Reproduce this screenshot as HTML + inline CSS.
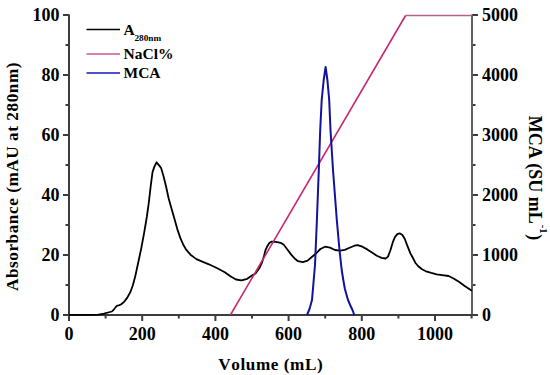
<!DOCTYPE html>
<html><head><meta charset="utf-8"><style>
html,body{margin:0;padding:0;background:#fff;}
body{width:550px;height:375px;overflow:hidden;}
svg{display:block;}
text{font-family:"Liberation Serif",serif;font-weight:bold;fill:#000;font-kerning:none;}
</style></head><body>
<svg width="550" height="375" viewBox="0 0 550 375">
<rect width="550" height="375" fill="#fff"/>
<g font-size="18">
<text x="69.0" y="340" text-anchor="middle">0</text>
<text x="142.2" y="340" text-anchor="middle">200</text>
<text x="215.4" y="340" text-anchor="middle">400</text>
<text x="288.6" y="340" text-anchor="middle">600</text>
<text x="361.8" y="340" text-anchor="middle">800</text>
<text x="435.0" y="340" text-anchor="middle">1000</text>
<text x="59.5" y="321.0" text-anchor="end">0</text>
<text x="59.5" y="261.0" text-anchor="end">20</text>
<text x="59.5" y="201.0" text-anchor="end">40</text>
<text x="59.5" y="141.0" text-anchor="end">60</text>
<text x="59.5" y="81.0" text-anchor="end">80</text>
<text x="59.5" y="21.0" text-anchor="end">100</text>
<text x="482" y="321.0" text-anchor="start">0</text>
<text x="482" y="261.0" text-anchor="start">1000</text>
<text x="482" y="201.0" text-anchor="start">2000</text>
<text x="482" y="141.0" text-anchor="start">3000</text>
<text x="482" y="81.0" text-anchor="start">4000</text>
<text x="482" y="21.0" text-anchor="start">5000</text>
</g>
<text x="270.8" y="369.5" font-size="17.2" letter-spacing="0.55" text-anchor="middle">Volume (mL)</text>
<text transform="translate(17.6,176.5) rotate(-90)" font-size="17.2" letter-spacing="0.55" text-anchor="middle">Absorbance (mAU at 280nm)</text>
<text transform="translate(529,178) rotate(90)" font-size="18" text-anchor="middle">MCA (SU mL<tspan font-size="10.5" dx="1" dy="-10.5">-1</tspan><tspan dx="0.8" dy="10.5">)</tspan></text>
<g stroke="#3c3c3c" stroke-width="2">
<line x1="69.00" y1="315" x2="69.00" y2="321"/>
<line x1="105.60" y1="315" x2="105.60" y2="318.5"/>
<line x1="142.20" y1="315" x2="142.20" y2="321"/>
<line x1="178.80" y1="315" x2="178.80" y2="318.5"/>
<line x1="215.40" y1="315" x2="215.40" y2="321"/>
<line x1="252.00" y1="315" x2="252.00" y2="318.5"/>
<line x1="288.60" y1="315" x2="288.60" y2="321"/>
<line x1="325.20" y1="315" x2="325.20" y2="318.5"/>
<line x1="361.80" y1="315" x2="361.80" y2="321"/>
<line x1="398.40" y1="315" x2="398.40" y2="318.5"/>
<line x1="435.00" y1="315" x2="435.00" y2="321"/>
<line x1="471.60" y1="315" x2="471.60" y2="318.5"/>
<line x1="63" y1="315.00" x2="69" y2="315.00"/>
<line x1="65.5" y1="285.00" x2="69" y2="285.00"/>
<line x1="63" y1="255.00" x2="69" y2="255.00"/>
<line x1="65.5" y1="225.00" x2="69" y2="225.00"/>
<line x1="63" y1="195.00" x2="69" y2="195.00"/>
<line x1="65.5" y1="165.00" x2="69" y2="165.00"/>
<line x1="63" y1="135.00" x2="69" y2="135.00"/>
<line x1="65.5" y1="105.00" x2="69" y2="105.00"/>
<line x1="63" y1="75.00" x2="69" y2="75.00"/>
<line x1="65.5" y1="45.00" x2="69" y2="45.00"/>
<line x1="63" y1="15.00" x2="69" y2="15.00"/>
<line x1="472" y1="315.00" x2="478" y2="315.00"/>
<line x1="472" y1="285.00" x2="475.5" y2="285.00"/>
<line x1="472" y1="255.00" x2="478" y2="255.00"/>
<line x1="472" y1="225.00" x2="475.5" y2="225.00"/>
<line x1="472" y1="195.00" x2="478" y2="195.00"/>
<line x1="472" y1="165.00" x2="475.5" y2="165.00"/>
<line x1="472" y1="135.00" x2="478" y2="135.00"/>
<line x1="472" y1="105.00" x2="475.5" y2="105.00"/>
<line x1="472" y1="75.00" x2="478" y2="75.00"/>
<line x1="472" y1="45.00" x2="475.5" y2="45.00"/>
<line x1="472" y1="15.00" x2="478" y2="15.00"/>
</g>
<g stroke="#3c3c3c" stroke-width="2" fill="none">
<line x1="69" y1="14.5" x2="69" y2="316"/>
<line x1="472" y1="14.5" x2="472" y2="316" stroke="#606060"/>
<line x1="68" y1="315" x2="473" y2="315"/>
</g>
<polyline points="69.0,314.8 90.0,314.8 98.5,314.6 103.9,313.6 108.1,312.5 111.9,311.5 114.0,309.3 115.6,307.2 117.2,305.6 118.8,305.3 120.9,304.5 124.1,301.9 127.3,297.6 130.5,291.7 132.7,285.8 135.2,276.5 138.4,261.7 141.2,248.6 144.0,233.7 145.9,222.5 146.8,217.0 148.7,203.5 150.7,186.2 152.5,172.3 154.2,167.1 156.5,162.3 159.1,165.4 161.1,168.0 163.4,175.8 166.0,186.2 168.6,198.3 171.2,207.5 174.5,219.0 177.3,229.1 180.3,237.9 183.2,244.5 186.1,249.6 190.5,254.7 196.4,259.1 202.3,261.6 208.9,264.3 217.3,268.3 224.8,272.2 230.4,276.3 236.0,279.5 241.6,280.3 247.2,278.8 252.3,275.2 255.5,273.5 259.2,268.5 262.2,262.0 264.0,256.0 265.4,250.4 267.0,246.8 269.5,242.8 271.8,241.6 275.8,241.8 280.6,242.8 283.8,244.8 287.0,249.0 291.0,254.4 295.0,258.8 298.0,261.2 302.8,262.2 307.6,260.6 312.4,256.5 315.6,253.8 320.4,249.0 325.0,246.7 330.0,247.6 335.0,250.0 340.0,250.7 344.8,249.9 349.6,247.8 354.4,245.7 357.6,245.1 362.4,246.7 367.2,249.4 372.0,252.6 376.8,255.8 381.6,257.9 385.6,258.5 388.0,256.6 390.4,250.2 392.8,242.2 395.2,236.6 397.6,233.9 400.0,233.4 402.4,235.0 404.8,239.0 407.2,245.4 410.4,253.4 412.7,257.5 415.3,262.7 418.0,266.0 422.0,269.3 426.0,271.3 431.3,272.9 436.7,274.3 442.0,275.1 448.7,276.0 454.0,278.7 459.3,282.0 464.7,286.0 470.7,290.0 472.0,290.8" fill="none" stroke="#000" stroke-width="1.8" stroke-linejoin="round"/>
<polyline points="230.4,315.0 405.6,15.5" fill="none" stroke="#c8286f" stroke-width="1.6"/>
<line x1="405.6" y1="15.5" x2="472" y2="15.5" stroke="#b8608c" stroke-width="1.4"/>
<polyline points="307.0,315.0 309.5,309.0 312.0,300.0 315.0,265.0 316.9,220.0 318.8,170.0 320.2,130.0 321.7,100.0 323.7,80.0 325.6,67.0 327.4,80.0 329.2,100.0 330.5,130.0 333.0,170.0 336.8,220.0 339.5,250.0 341.7,270.0 343.3,280.0 344.9,289.0 348.0,300.0 350.6,306.0 352.5,310.0 354.3,315.0" fill="none" stroke="#12129e" stroke-width="2" stroke-linejoin="round"/>
<g stroke-width="1.7">
<line x1="86.5" y1="29.5" x2="120" y2="29.5" stroke="#000"/>
<line x1="86.5" y1="54" x2="120" y2="54" stroke="#cc5590"/>
<line x1="86.5" y1="73" x2="120" y2="73" stroke="#1414b4"/>
</g>
<g font-size="15.5">
<text x="123.5" y="34.5">A</text>
<text x="134.5" y="40.7" font-size="7.3" transform="translate(134.5,40.7) scale(1.27,1) translate(-134.5,-40.7)">280nm</text>
<text x="123.5" y="58.7">NaCl%</text>
<text x="123.5" y="77.5">MCA</text>
</g>
</svg>
</body></html>
